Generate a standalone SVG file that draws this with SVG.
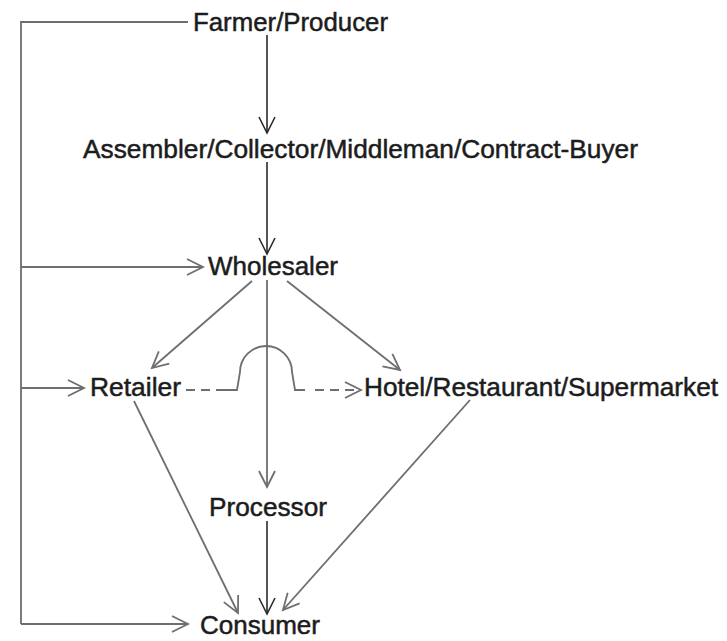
<svg xmlns="http://www.w3.org/2000/svg" width="727" height="641" viewBox="0 0 727 641">
<defs>
<style>
text{font-family:"Liberation Sans",Arial,sans-serif;font-size:26px;fill:#1c1c1c;stroke:#1c1c1c;stroke-width:0.5}
.dk{stroke:#2a2a2a;stroke-width:1.6;fill:none}
.gr{stroke:#6e6e6e;stroke-width:1.8;fill:none}
.dash{stroke-dasharray:9,6}
</style>
<marker id="ad" viewBox="0 0 20 20" markerUnits="userSpaceOnUse" markerWidth="20" markerHeight="20" refX="17" refY="10" orient="auto">
<path d="M1,2 L17,10 L1,18" fill="none" stroke="#2a2a2a" stroke-width="1.6"/>
</marker>
<marker id="ag" viewBox="0 0 20 20" markerUnits="userSpaceOnUse" markerWidth="20" markerHeight="20" refX="17" refY="10" orient="auto">
<path d="M1,2 L17,10 L1,18" fill="none" stroke="#6e6e6e" stroke-width="1.8"/>
</marker>
</defs>
<rect width="727" height="641" fill="#ffffff"/>
<g id="connectors">
<polyline class="gr" points="188,22 21,22 21,624"/>
<line class="gr" x1="21" y1="267" x2="203" y2="267" marker-end="url(#ag)"/>
<line class="gr" x1="21" y1="388" x2="84" y2="388" marker-end="url(#ag)"/>
<line class="gr" x1="21" y1="624" x2="188" y2="624" marker-end="url(#ag)"/>
<line class="dk" x1="267" y1="35" x2="267" y2="133" marker-end="url(#ad)"/>
<line class="dk" x1="267" y1="162" x2="267" y2="254" marker-end="url(#ad)"/>
<line class="gr" x1="252" y1="281" x2="152" y2="368" marker-end="url(#ag)"/>
<line class="gr" x1="287" y1="281" x2="400" y2="370" marker-end="url(#ag)"/>
<line class="gr" x1="267" y1="280" x2="267" y2="487" marker-end="url(#ag)"/>
<line class="gr dash" x1="186" y1="390" x2="224" y2="390"/>
<path class="gr" d="M222,390 L237,390 L240,372 A26,26 0 0 1 292,372 L295,390 L305,390"/>
<line class="gr dash" x1="315" y1="390" x2="361" y2="390" marker-end="url(#ag)"/>
<line class="gr" x1="134" y1="401" x2="238" y2="613" marker-end="url(#ag)"/>
<line class="gr" x1="470" y1="400" x2="283" y2="610" marker-end="url(#ag)"/>
<line class="dk" x1="267" y1="521" x2="267" y2="614" marker-end="url(#ad)"/>
</g>
<g id="farmer"><text x="193" y="31" textLength="195" lengthAdjust="spacingAndGlyphs">Farmer/Producer</text></g>
<g id="assembler"><text x="83" y="158" textLength="555" lengthAdjust="spacingAndGlyphs">Assembler/Collector/Middleman/Contract-Buyer</text></g>
<g id="wholesaler"><text x="208" y="275" textLength="130" lengthAdjust="spacingAndGlyphs">Wholesaler</text></g>
<g id="retailer"><text x="90" y="396" textLength="91" lengthAdjust="spacingAndGlyphs">Retailer</text></g>
<g id="hotel"><text x="364" y="396" textLength="354" lengthAdjust="spacingAndGlyphs">Hotel/Restaurant/Supermarket</text></g>
<g id="processor"><text x="209" y="516" textLength="118" lengthAdjust="spacingAndGlyphs">Processor</text></g>
<g id="consumer"><text x="200" y="634" textLength="120" lengthAdjust="spacingAndGlyphs">Consumer</text></g>
</svg>
